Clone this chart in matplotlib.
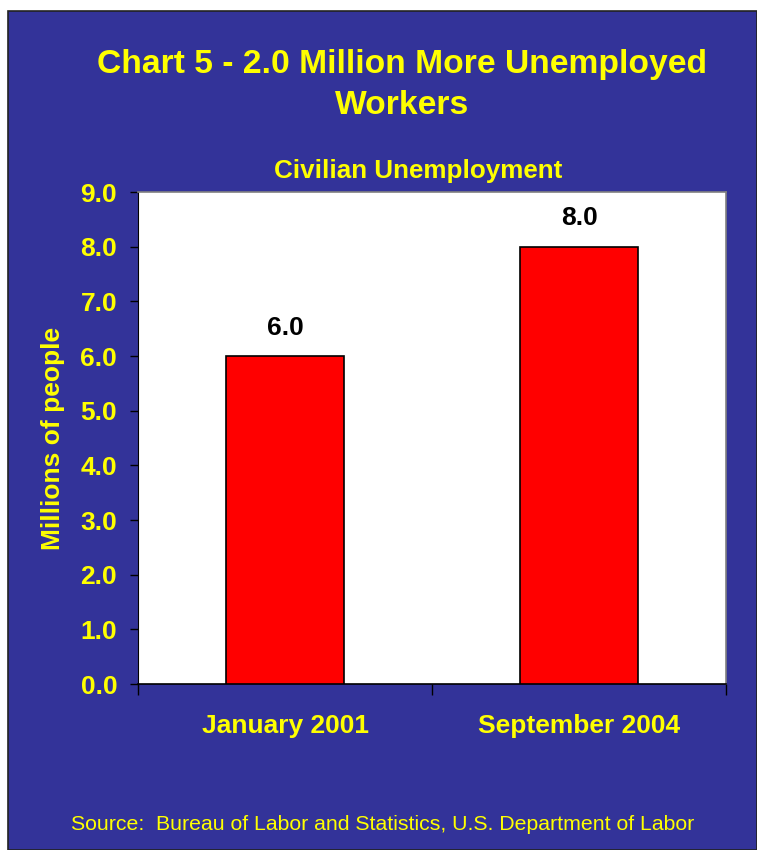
import matplotlib.pyplot as plt
from matplotlib.patches import Rectangle

plt.rcParams['font.family'] = ['Liberation Sans', 'DejaVu Sans']

categories = ['January 2001', 'September 2004']
unemployed = [6.0, 8.0]
yticks = [0.0, 1.0, 2.0, 3.0, 4.0, 5.0, 6.0, 7.0, 8.0, 9.0]

BLUE = '#333399'
YELLOW = '#ffff00'
W, H = 757, 850

fig = plt.figure(figsize=(W / 100, H / 100), dpi=100, facecolor='white')

# blue slide panel with a thin dark frame on the left/top
panel = Rectangle((8 / W, 0), 1 - 8 / W, 1 - 11 / H, transform=fig.transFigure,
                  facecolor=BLUE, edgecolor='#222222', linewidth=1.2, zorder=-1)
fig.patches.append(panel)

left, right, top, bottom = 138, 726, 192, 684
ax = fig.add_axes([left / W, 1 - bottom / H, (right - left) / W, (bottom - top) / H])
ax.set_facecolor('white')

x = list(range(len(categories)))
bars = ax.bar(x, unemployed, width=0.4, color='#ff0000', edgecolor='black', linewidth=1.2, zorder=3)
for b, v in zip(bars, unemployed):
    ax.text(b.get_x() + b.get_width() / 2, v + 0.3, f'{v:.1f}', ha='center', va='bottom',
            fontsize=19, fontweight='bold', color='black')

ax.set_xlim(-0.5, 1.5)
ax.set_ylim(0, 9)
ax.set_yticks(yticks)
ax.set_yticklabels([f'{t:.1f}' for t in yticks], fontsize=19, fontweight='bold', color=YELLOW)
ax.tick_params(axis='y', direction='out', length=6, width=1, color='black', pad=9)

# category labels sit between boundary ticks
ax.set_xticks([-0.5, 0.5, 1.5])
ax.set_xticklabels([])
ax.tick_params(axis='x', direction='out', length=8, width=1, color='black')
for xi, lab in zip(x, categories):
    ax.text(xi, -0.77, lab, ha='center', va='center', fontsize=19, fontweight='bold',
            color=YELLOW, transform=ax.transData)

for s in ['top', 'right']:
    ax.spines[s].set_color('#808080')
    ax.spines[s].set_linewidth(1.2)
ax.spines['left'].set_color('black')
ax.spines['bottom'].set_color('black')
ax.spines['bottom'].set_linewidth(1.2)

ax.set_ylabel('Millions of people', fontsize=19, fontweight='bold', color=YELLOW, labelpad=11)

fig.text(402 / W, 1 - 64 / H, 'Chart 5 - 2.0 Million More Unemployed', ha='center', va='center',
         fontsize=24.2, fontweight='bold', color=YELLOW)
fig.text(402 / W, 1 - 106 / H, 'Workers', ha='center', va='center',
         fontsize=24.2, fontweight='bold', color=YELLOW)
fig.text(418 / W, 1 - 171 / H, 'Civilian Unemployment', ha='center', va='center',
         fontsize=18.7, fontweight='bold', color=YELLOW)
fig.text(383 / W, 1 - 825 / H, 'Source:  Bureau of Labor and Statistics, U.S. Department of Labor',
         ha='center', va='center', fontsize=15.3, color=YELLOW)

fig.savefig('out.png', dpi=100, facecolor=fig.get_facecolor())
